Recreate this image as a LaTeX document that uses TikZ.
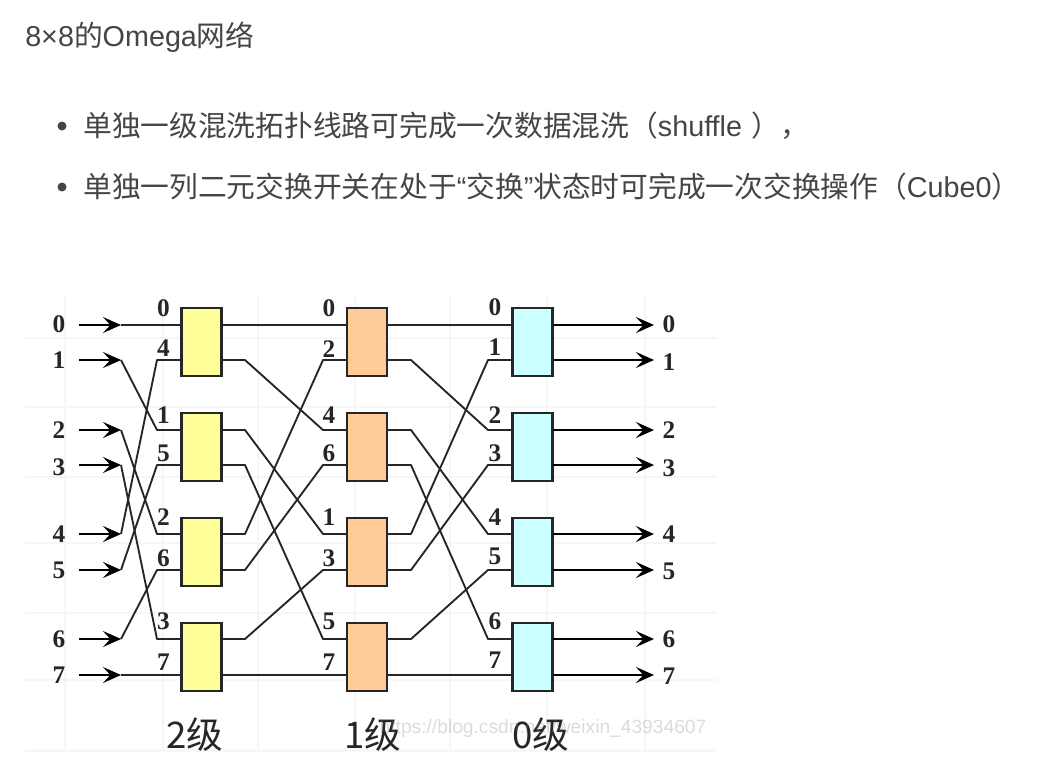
\documentclass[tikz,border=0pt]{standalone}
\usepackage{fontspec}
\setmainfont{Liberation Sans}
\newfontfamily\cjk{Noto Sans CJK SC}
\newfontfamily\digitfont{Liberation Serif}
\newcommand{\latn}[1]{{\rmfamily #1}}
\usetikzlibrary{arrows.meta}
\definecolor{txt}{HTML}{454545}
\definecolor{ink}{HTML}{262626}
\definecolor{gridc}{HTML}{F5F6F6}
\definecolor{swyellow}{HTML}{FFFF99}
\definecolor{sworange}{HTML}{FFCC99}
\definecolor{swcyan}{HTML}{CCFFFF}
\definecolor{bandc}{HTML}{F3F8FB}
\tikzset{
  x=0.75pt,y=-0.75pt,
  swbox/.style={draw=ink,line width=1.6pt,minimum width=30pt,minimum height=51.5pt,inner sep=0pt,outer sep=0pt},
  wire/.style={draw=ink,line width=1.4pt,line join=round},
  feed/.style={draw=black,line width=1.9pt,-{Stealth[length=13.5pt,width=12pt,inset=5.5pt]}},
  digit/.style={font=\digitfont\bfseries\fontsize{19}{19}\selectfont,text=ink,inner sep=0pt},
  stage/.style={font=\cjk\fontsize{27.5}{28}\selectfont,text=ink,inner sep=0pt},
  para/.style={anchor=base west,inner sep=0pt,text=txt,font=\cjk\fontsize{21.55}{24}\selectfont},
  faint/.style={draw=gridc,line width=1.6pt},
}
\begin{document}
\begin{tikzpicture}
\useasboundingbox (0,0) rectangle (1037,782);
\fill[white] (0,0) rectangle (1037,782);
% text block
\node[para] (title) at (25,46) {\latn{8×8}的\latn{Omega}网络};
\fill[txt] (62,126) circle (4.5);
\fill[txt] (62,187) circle (4.5);
\node[para] (lineone) at (83,136) {单独一级混洗拓扑线路可完成一次数据混洗（\latn{shuffle}\hspace{7pt}），};
\node[para] (linetwo) at (83,197) {单独一列二元交换开关在处于\latn{“}交换\latn{”}状态时可完成一次交换操作（\latn{Cube0}）};
% faint backdrop grid
\foreach \gx in {65,163,258,355,450,547,645}
  \draw[faint] (\gx,296) -- (\gx,750);
\foreach \gy in {338,407,477,543,613,680}
  \draw[faint] (25,\gy) -- (717,\gy);
\fill[bandc] (25,749) rectangle (717,752);
% switches
\foreach \i/\cy in {0/342,1/447,2/552,3/657}{
  \node[swbox,fill=swyellow] (a\i) at (201.5,\cy) {};
  \node[swbox,fill=sworange] (b\i) at (367,\cy) {};
  \node[swbox,fill=swcyan] (c\i) at (532.5,\cy) {};
}
% rows
\foreach \r/\y in {0/325,1/360,2/430,3/465,4/534,5/570,6/639,7/675}{
  \coordinate (src\r) at (79,\y);
  \coordinate (tip\r) at (121,\y);
  \coordinate (ka\r) at (157,\y);
  \coordinate (ina\r) at (181,\y);
  \coordinate (outa\r) at (222,\y);
  \coordinate (ma\r) at (245,\y);
  \coordinate (kb\r) at (323,\y);
  \coordinate (inb\r) at (346,\y);
  \coordinate (outb\r) at (388,\y);
  \coordinate (mb\r) at (411,\y);
  \coordinate (kc\r) at (488,\y);
  \coordinate (inc\r) at (512,\y);
  \coordinate (outc\r) at (553,\y);
  \coordinate (end\r) at (654,\y);
  \draw[feed] (src\r) -- (tip\r);
  \draw[feed] (outc\r) -- (end\r);
}
% perfect-shuffle wiring
\foreach \s/\t in {0/0,1/2,2/4,3/6,4/1,5/3,6/5,7/7}{
  \draw[wire] (tip\s) -- (ka\t) -- (ina\t);
  \draw[wire] (outa\s) -- (ma\s) -- (kb\t) -- (inb\t);
  \draw[wire] (outb\s) -- (mb\s) -- (kc\t) -- (inc\t);
}
% left and right numbers
\foreach \n/\ly/\ry in {0/324/324,1/360/362,2/430/430,3/467/468,4/534/534,5/570/571,6/639/639,7/675/676}{
  \node[digit] (left\n) at (59,\ly) {\n};
  \node[digit] (right\n) at (669,\ry) {\n};
}
% numbers at switch inputs
\foreach \n/\ly in {0/308,4/348,1/415,5/453,2/517,6/558,3/621,7/662}
  \node[digit] (la\n) at (163.5,\ly) {\n};
\foreach \n/\ly in {0/308,2/349,4/415,6/453,1/517,3/558,5/621,7/662}
  \node[digit] (lb\n) at (329,\ly) {\n};
\foreach \n/\ly in {0/307,1/347,2/415,3/453,4/517,5/556,6/621,7/660}
  \node[digit] (lc\n) at (495,\ly) {\n};
% stage captions
\node[stage] (s2) at (195,735) {2级};
\node[stage] (s1) at (373,735) {1级};
\node[stage] (s0) at (541,735) {0级};
% watermark
\node[inner sep=0pt,text=gray,opacity=0.28,font=\fontsize{14.4}{16}\selectfont] (mark) at (543,729) {https://blog.csdn.net/weixin\_43934607};
\end{tikzpicture}
\end{document}
